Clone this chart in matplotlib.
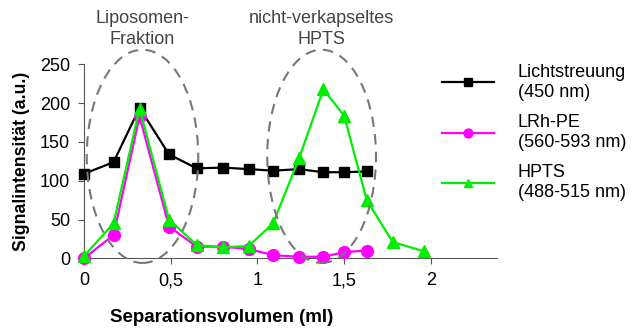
import matplotlib
matplotlib.use("Agg")
import matplotlib.pyplot as plt
from matplotlib.patches import Ellipse
from matplotlib.ticker import FuncFormatter

plt.rcParams["font.family"] = ["Liberation Sans", "DejaVu Sans"]

# fractions (ml) and signal intensities
volume = [0, 0.17, 0.32, 0.49, 0.65, 0.80, 0.95, 1.09, 1.24, 1.38, 1.50, 1.63]
volume_hpts = volume + [1.78, 1.96]
streuung = [109, 124, 194, 134, 116, 117, 115, 113, 115, 111, 111, 112]
lrh_pe = [0, 30, 183, 41, 15, 15, 12, 4, 2, 2, 8, 10]
hpts = [3, 45, 193, 50, 17, 14, 16, 45, 129, 218, 184, 75, 21, 9]

series_labels = ["Lichtstreuung\n(450 nm)", "LRh-PE\n(560-593 nm)", "HPTS\n(488-515 nm)"]
region_labels = ["Liposomen-\nFraktion", "nicht-verkapseltes\nHPTS"]
region_centers = [0.337, 1.37]
region_widths = [0.643, 0.627]

fig = plt.figure(figsize=(6.32, 3.28), dpi=100)
ax = fig.add_axes([0.133, 0.2125, 0.653, 0.591])

ax.plot(volume, streuung, color="black", lw=1.6, marker="s", ms=7,
        label=series_labels[0], clip_on=False, zorder=3)
ax.plot(volume, lrh_pe, color="#ff00ff", lw=1.6, marker="o", ms=8.5,
        label=series_labels[1], clip_on=False, zorder=4)
ax.plot(volume_hpts, hpts, color="#00ee00", lw=1.6, marker="^", ms=8,
        label=series_labels[2], clip_on=False, zorder=5)

for cx, w in zip(region_centers, region_widths):
    ax.add_patch(Ellipse((cx, 131.5), w, 275, fill=False, ls=(0, (5, 3.5)),
                         lw=1.5, ec="#777777", clip_on=False, zorder=6))

ax.set_xlim(0, 2.38)
ax.set_ylim(0, 250)
ax.set_xticks([0, 0.5, 1, 1.5, 2])
ax.set_yticks([0, 50, 100, 150, 200, 250])
ax.xaxis.set_major_formatter(FuncFormatter(lambda v, p: f"{v:g}".replace(".", ",")))
ax.tick_params(labelsize=13, length=4, color="#555555", pad=6)
for side in ("top", "right"):
    ax.spines[side].set_visible(False)
for side in ("left", "bottom"):
    ax.spines[side].set_color("#555555")

ax.set_xlabel("Separationsvolumen (ml)", fontsize=13.5, fontweight="bold", labelpad=14)
ax.xaxis.set_label_coords(0.334, -0.26)
ax.set_ylabel("Signalintensität (a.u.)", fontsize=12.7, fontweight="bold", labelpad=7)

for cx, txt in zip(region_centers, region_labels):
    ax.text(cx, 1.183, txt, transform=ax.get_xaxis_transform(), ha="center",
            va="center", fontsize=13, color="#444444", linespacing=1.25)

ax.legend(loc="upper left", bbox_to_anchor=(0.699, 0.805), bbox_transform=fig.transFigure,
          frameon=False, fontsize=13, handlelength=2.9, handletextpad=1.3,
          labelspacing=0.75, borderpad=0, borderaxespad=0, markerscale=0.75)

fig.savefig("out.png", dpi=100, facecolor="white")
